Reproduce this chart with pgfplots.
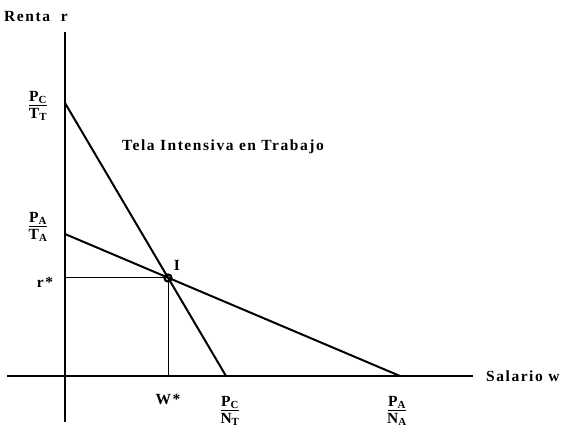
\documentclass[border=0pt]{standalone}
\usepackage{pgfplots}
\pgfplotsset{compat=1.18}
\usepackage{fontspec}
\setmainfont{Liberation Serif}[LetterSpace=10]
\newcommand{\frlab}[2]{\shortstack{\underline{#1}\\[0pt]#2}}
\begin{document}
\begin{tikzpicture}
\begin{axis}[
width=565pt, height=431pt,
scale only axis,
hide axis,
clip=false,
xmin=-65, xmax=500,
ymin=-55, ymax=376,
font=\fontsize{15.5}{17}\selectfont\bfseries,
]
% keep the full frame in the bounding box
\path (axis cs:-65,-55) rectangle (axis cs:500,376);
% axes
\addplot [black, line width=1.8pt] coordinates {(-58,0) (408,0)};
\addplot [black, line width=1.8pt] coordinates {(0,-46) (0,344)};
% zero-profit lines
\addplot [black, line width=2pt] coordinates {(0,273) (161,0)};
\addplot [black, line width=2pt] coordinates {(0,142) (335,0)};
% equilibrium guides
\addplot [black, line width=1pt] coordinates {(0,98) (103,98) (103,0)};
\addplot [black, only marks, mark=o, mark size=3.5pt, mark options={line width=2.2pt}] coordinates {(103,98)};

\node at (axis cs:-29,359) {Renta\ \ r};
\node [anchor=west, inner sep=0pt] at (axis cs:421,0) {Salario w};
\node at (axis cs:-27,270) {\frlab{P\textsubscript{C}}{T\textsubscript{T}}};
\node at (axis cs:-27,149) {\frlab{P\textsubscript{A}}{T\textsubscript{A}}};
\node at (axis cs:-20,94) {r*};
\node at (axis cs:112,111) {I};
\node at (axis cs:158,229) {Tela Intensiva en Trabajo};
\node at (axis cs:103,-24) {W*};
\node at (axis cs:165,-35) {\frlab{P\textsubscript{C}}{N\textsubscript{T}}};
\node at (axis cs:332,-35) {\frlab{P\textsubscript{A}}{N\textsubscript{A}}};
\end{axis}
\end{tikzpicture}
\end{document}
